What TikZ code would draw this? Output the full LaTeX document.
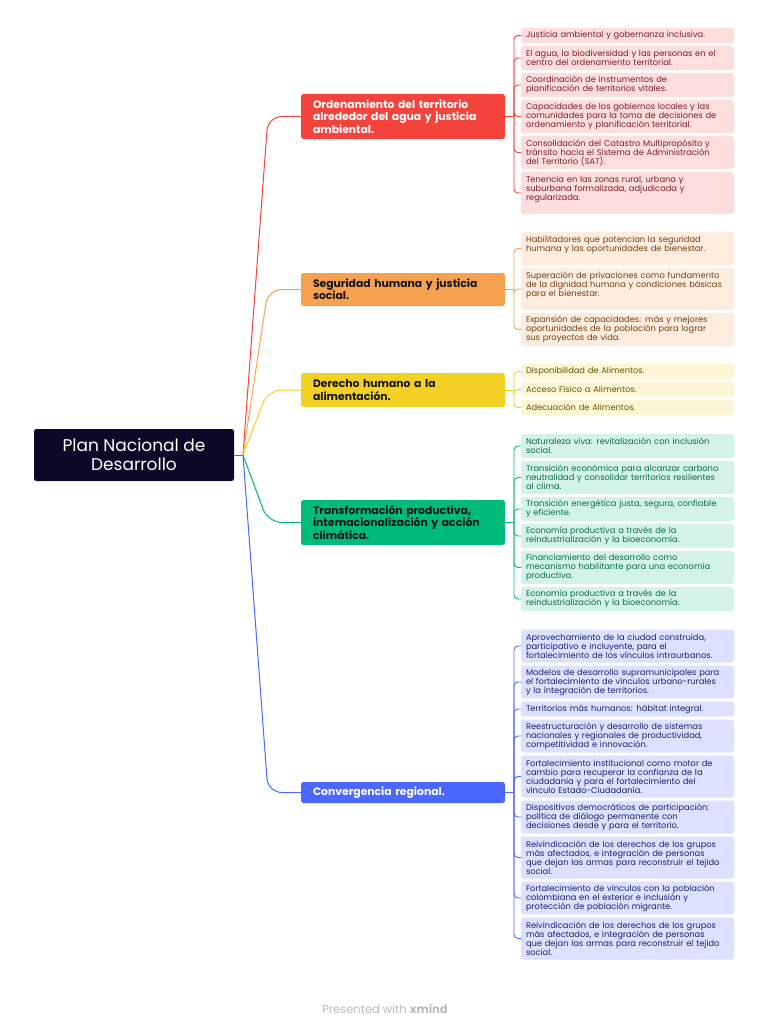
\documentclass[tikz,border=0pt]{standalone}
\usepackage{fontspec}
\setmainfont{Poppins}
\usetikzlibrary{positioning}

\begin{document}
\begin{tikzpicture}[x=1pt,y=-1pt]
    % set up xmind palette
    \definecolor{xmNavy}{RGB}{10,10,40}
    \definecolor{xmRed}{RGB}{244,67,60}
    \definecolor{xmRedL}{RGB}{254,221,221}
    \definecolor{xmRedT}{RGB}{125,30,40}
    \definecolor{xmOrange}{RGB}{245,161,80}
    \definecolor{xmOrangeL}{RGB}{254,236,222}
    \definecolor{xmOrangeT}{RGB}{115,65,20}
    \definecolor{xmYellow}{RGB}{242,209,36}
    \definecolor{xmYellowL}{RGB}{252,246,212}
    \definecolor{xmYellowT}{RGB}{105,85,10}
    \definecolor{xmGreen}{RGB}{0,186,122}
    \definecolor{xmGreenL}{RGB}{210,243,229}
    \definecolor{xmGreenT}{RGB}{10,110,75}
    \definecolor{xmBlue}{RGB}{74,104,255}
    \definecolor{xmBlueL}{RGB}{219,225,255}
    \definecolor{xmBlueT}{RGB}{25,35,115}
    \definecolor{xmGrey}{RGB}{185,185,185}
    \definecolor{xmInk}{RGB}{20,20,25}
    \tikzstyle{every node}=[inner sep=0pt, outer sep=0pt]
    \tikzstyle{branch}=[anchor=west, rounded corners=2.5pt, text width=180pt, inner xsep=12pt, align=left, font=\fontsize{10.8}{12.3}\selectfont\bfseries]
    \tikzstyle{leaf}=[rounded corners=2.5pt, text width=203pt, inner xsep=5pt, align=left, minimum height=15pt, font=\fontsize{8.3}{9}\selectfont]
    \tikzstyle{leafRed}=[leaf, fill=xmRedL, text=xmRedT]
    \tikzstyle{leafOrange}=[leaf, fill=xmOrangeL, text=xmOrangeT]
    \tikzstyle{leafYellow}=[leaf, fill=xmYellowL, text=xmYellowT]
    \tikzstyle{leafGreen}=[leaf, fill=xmGreenL, text=xmGreenT]
    \tikzstyle{leafBlue}=[leaf, fill=xmBlueL, text=xmBlueT]
    \tikzstyle{stem}=[line width=1pt, rounded corners=14pt]
    \tikzstyle{twig}=[line width=0.9pt, rounded corners=4pt]

    \useasboundingbox (0,0) rectangle (768,1024);

    % root topic
    \node[fill=xmNavy, text=white, rounded corners=2.5pt, minimum width=200pt, minimum height=52pt, align=center, font=\fontsize{17}{19}\selectfont] (plan) at (134,455) {Plan Nacional de\\Desarrollo};

    % main branches
    \node[branch, fill=xmRed, text=white, minimum height=45pt] (ord) at (301,116.5) {Ordenamiento del territorio\\alrededor del agua y justicia\\ambiental.};
    \node[branch, fill=xmOrange, text=xmInk, minimum height=33pt] (seg) at (301,289.5) {Seguridad humana y justicia\\social.};
    \node[branch, fill=xmYellow, text=xmInk, minimum height=34pt] (ali) at (301,390) {Derecho humano a la\\alimentación.};
    \node[branch, fill=xmGreen, text=xmInk, minimum height=45pt] (tra) at (301,522.5) {Transformación productiva,\\internacionalización y acción\\climática.};
    \node[branch, fill=xmBlue, text=white, minimum height=21pt] (con) at (301,792.5) {Convergencia regional.};

    % leaves of the red branch
    \node[leafRed, anchor=north west] (r1) at (521,28) {Justicia ambiental y gobernanza inclusiva.};
    \node[leafRed, below=3pt of r1, minimum height=24pt] (r2) {El agua, la biodiversidad y las personas en el\\centro del ordenamiento territorial.};
    \node[leafRed, below=3pt of r2, minimum height=24pt] (r3) {Coordinación de instrumentos de\\planificación de territorios vitales.};
    \node[leafRed, below=3pt of r3, minimum height=33pt] (r4) {Capacidades de los gobiernos locales y las\\comunidades para la toma de decisiones de\\ordenamiento y planificación territorial.};
    \node[leafRed, below=3pt of r4, minimum height=33pt] (r5) {Consolidación del Catastro Multipropósito y\\tránsito hacia el Sistema de Administración\\del Territorio (SAT).};
    \node[leafRed, below=3pt of r5, minimum height=42pt] (r6) {Tenencia en las zonas rural, urbana y\\suburbana formalizada, adjudicada y\\regularizada.\\\mbox{}};

    % leaves of the orange branch
    \node[leafOrange, anchor=north west, minimum height=33pt] (o1) at (521,232) {Habilitadores que potencian la seguridad\\humana y las oportunidades de bienestar.\\\mbox{}};
    \node[leafOrange, below=3pt of o1, minimum height=42pt] (o2) {Superación de privaciones como fundamento\\de la dignidad humana y condiciones básicas\\para el bienestar.\\\mbox{}};
    \node[leafOrange, below=3pt of o2, minimum height=33pt] (o3) {Expansión de capacidades: más y mejores\\oportunidades de la población para lograr\\sus proyectos de vida.};

    % leaves of the yellow branch
    \node[leafYellow, anchor=north west] (y1) at (521,364) {Disponibilidad de Alimentos.};
    \node[leafYellow, below=3pt of y1] (y2) {Acceso Físico a Alimentos.};
    \node[leafYellow, below=3pt of y2] (y3) {Adecuación de Alimentos.};

    % leaves of the green branch
    \node[leafGreen, anchor=north west, minimum height=24pt] (g1) at (521,434) {Naturaleza viva: revitalización con inclusión\\social.};
    \node[leafGreen, below=3pt of g1, minimum height=33pt] (g2) {Transición económica para alcanzar carbono\\neutralidad y consolidar territorios resilientes\\al clima.};
    \node[leafGreen, below=3pt of g2, minimum height=24pt] (g3) {Transición energética justa, segura, confiable\\y eficiente.};
    \node[leafGreen, below=3pt of g3, minimum height=24pt] (g4) {Economía productiva a través de la\\reindustrialización y la bioeconomía.};
    \node[leafGreen, below=3pt of g4, minimum height=33pt] (g5) {Financiamiento del desarrollo como\\mecanismo habilitante para una economía\\productiva.};
    \node[leafGreen, below=3pt of g5, minimum height=24pt] (g6) {Economía productiva a través de la\\reindustrialización y la bioeconomía.};

    % leaves of the blue branch
    \node[leafBlue, anchor=north west, minimum height=33pt] (b1) at (521,629.5) {Aprovechamiento de la ciudad construida,\\participativo e incluyente, para el\\fortalecimiento de los vínculos intraurbanos.};
    \node[leafBlue, below=3pt of b1, minimum height=33pt] (b2) {Modelos de desarrollo supramunicipales para\\el fortalecimiento de vínculos urbano-rurales\\y la integración de territorios.};
    \node[leafBlue, below=3pt of b2] (b3) {Territorios más humanos: hábitat integral.};
    \node[leafBlue, below=3pt of b3, minimum height=33pt] (b4) {Reestructuración y desarrollo de sistemas\\nacionales y regionales de productividad,\\competitividad e innovación.};
    \node[leafBlue, below=3pt of b4, minimum height=42pt] (b5) {Fortalecimiento institucional como motor de\\cambio para recuperar la confianza de la\\ciudadanía y para el fortalecimiento del\\vínculo Estado-Ciudadanía.};
    \node[leafBlue, below=3pt of b5, minimum height=33pt] (b6) {Dispositivos democráticos de participación:\\política de diálogo permanente con\\decisiones desde y para el territorio.};
    \node[leafBlue, below=3pt of b6, minimum height=42pt] (b7) {Reivindicación de los derechos de los grupos\\más afectados, e integración de personas\\que dejan las armas para reconstruir el tejido\\social.};
    \node[leafBlue, below=3pt of b7, minimum height=33pt] (b8) {Fortalecimiento de vínculos con la población\\colombiana en el exterior e inclusión y\\protección de población migrante.};
    \node[leafBlue, below=3pt of b8, minimum height=42pt] (b9) {Reivindicación de los derechos de los grupos\\más afectados, e integración de personas\\que dejan las armas para reconstruir el tejido\\social.};

    % connect root to branches
    \coordinate (hub) at ([xshift=9pt]plan.east);
    \draw[stem, xmBlue] (plan.east) -- (hub);
    \draw[stem, xmRed] (hub) -- ([xshift=-33pt]ord.west) -- (ord.west);
    \draw[stem, xmOrange] (hub) -- ([xshift=-33pt]seg.west) -- (seg.west);
    \draw[stem, xmYellow] (hub) -- ([xshift=-33pt]ali.west) -- (ali.west);
    \draw[stem, xmGreen] (hub) -- ([xshift=-33pt]tra.west) -- (tra.west);
    \draw[stem, xmBlue] (hub) -- ([xshift=-33pt]con.west) -- (con.west);

    % connect branches to leaves
    \coordinate (ordHub) at ([xshift=9pt]ord.east);
    \coordinate (segHub) at ([xshift=9pt]seg.east);
    \coordinate (aliHub) at ([xshift=9pt]ali.east);
    \coordinate (traHub) at ([xshift=9pt]tra.east);
    \coordinate (conHub) at ([xshift=9pt]con.east);
    \draw[twig, xmRed] (ord.east) -- (ordHub);
    \draw[twig, xmOrange] (seg.east) -- (segHub);
    \draw[twig, xmYellow] (ali.east) -- (aliHub);
    \draw[twig, xmGreen] (tra.east) -- (traHub);
    \draw[twig, xmBlue] (con.east) -- (conHub);
    \foreach \n in {r1,r2,r3,r4,r5,r6}
      \draw[twig, xmRed] (ordHub) |- (\n.west);
    \foreach \n in {o1,o2,o3}
      \draw[twig, xmOrange] (segHub) |- (\n.west);
    \foreach \n in {y1,y2,y3}
      \draw[twig, xmYellow] (aliHub) |- (\n.west);
    \foreach \n in {g1,g2,g3,g4,g5,g6}
      \draw[twig, xmGreen] (traHub) |- (\n.west);
    \foreach \n in {b1,b2,b3,b4,b5,b6,b7,b8,b9}
      \draw[twig, xmBlue] (conHub) |- (\n.west);

    % footer
    \node[text=xmGrey, font=\fontsize{11.5}{13}\selectfont] (credit) at (385,1008.5) {Presented with \textbf{xmind}};

\end{tikzpicture}
\end{document}
